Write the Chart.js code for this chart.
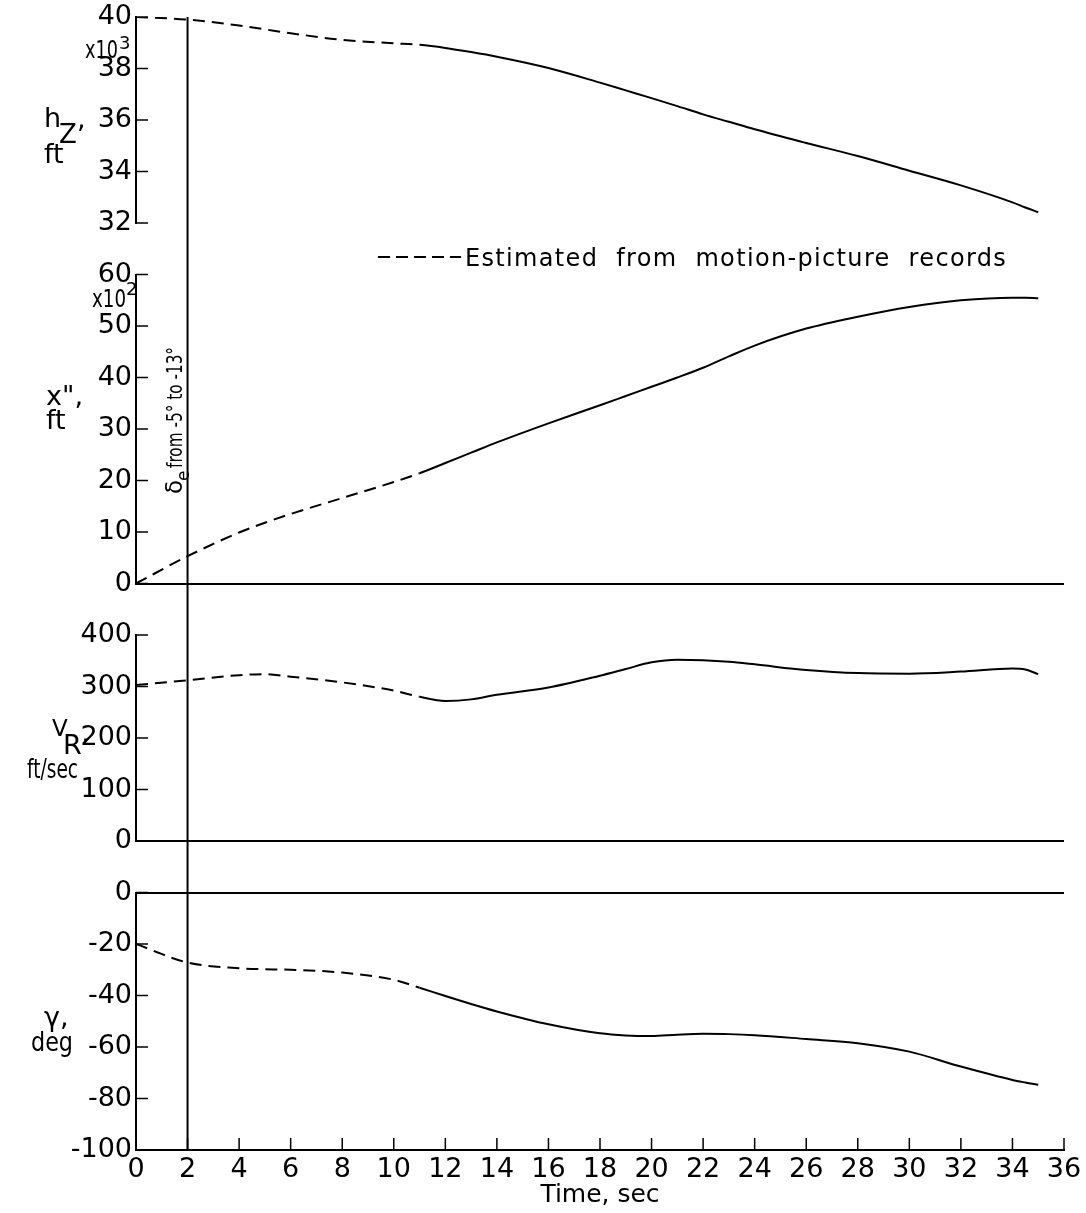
<!DOCTYPE html>
<html>
<head>
<meta charset="utf-8">
<script src="https://cdn.jsdelivr.net/npm/chart.js@4/dist/chart.umd.min.js"></script>
<style>
  body { margin: 0; background: #fff; }
  #wrap { width: 1086px; height: 1213px; }
</style>
</head>
<body>
<div id="wrap"><canvas id="myChart" width="1086" height="1213"></canvas></div>
<script>
// time, sec
var times = [0, 2, 4, 5, 6, 8, 10, 11, 12, 13, 14, 16, 18, 19, 20, 21, 22, 23, 24, 26, 28, 30, 32, 34, 34.5, 35];
// h_Z, ft x10^3
var heightVals = [40.0, 39.9, 39.67, 39.52, 39.37, 39.11, 38.98, 38.92, 38.8, 38.64, 38.46, 38.02, 37.45, 37.15, 36.85, 36.54, 36.22, 35.93, 35.64, 35.11, 34.6, 34.03, 33.46, 32.8, 32.6, 32.42];
// x'', ft x10^2
var distVals = [0, 5.3, 9.9, 11.8, 13.5, 16.6, 19.7, 21.4, 23.4, 25.4, 27.4, 31.1, 34.6, 36.4, 38.2, 40.0, 41.9, 44.1, 46.2, 49.5, 51.8, 53.7, 55.0, 55.5, 55.5, 55.4];
// V_R, ft/sec
var speedVals = [303, 312, 322, 324, 319, 308, 292, 280, 272, 275, 284, 298, 321, 334, 347, 352, 351, 348, 343, 332, 326, 325, 329, 335, 333, 324];
// gamma, deg
var gammaVals = [-20, -27.2, -29.4, -29.8, -30, -31.1, -33.9, -37, -40.2, -43.3, -46.2, -51.2, -54.7, -55.5, -55.7, -55.2, -54.9, -55, -55.4, -56.9, -58.5, -61.8, -67.6, -72.8, -73.8, -74.7];

var xTicks = [0, 2, 4, 6, 8, 10, 12, 14, 16, 18, 20, 22, 24, 26, 28, 30, 32, 34, 36];
var estimatedUntil = 11;   // dashed part (motion-picture records)
var controlTime = 2;       // delta_e step

var FONT = '"DejaVu Sans", sans-serif';
Chart.defaults.font.family = FONT;
Chart.defaults.color = '#000';

function pts(vals) {
  return times.map(function (t, i) { return {x: t, y: vals[i]}; });
}

function series(vals, axis) {
  return {
    data: pts(vals),
    yAxisID: axis,
    borderColor: '#000',
    borderWidth: 2,
    pointRadius: 0,
    fill: false,
    cubicInterpolationMode: 'monotone',
    segment: {
      borderDash: function (c) { return c.p1.parsed.x <= estimatedUntil ? [12, 7] : undefined; }
    }
  };
}

function noPad(s) {
  s.paddingTop = 0; s.paddingBottom = 0; s.paddingLeft = 0; s.paddingRight = 0;
}

function panelAxis(min, max, step, stackWeight, weight) {
  return {
    type: 'linear',
    position: 'left',
    stack: 'panels',
    stackWeight: stackWeight,
    weight: weight,
    min: min,
    max: max,
    afterFit: function (s) { s.width = 136; noPad(s); },
    border: {display: true, color: '#000', width: 2},
    grid: {
      color: function (c) { return c.tick && c.tick.value === 0 ? '#000' : 'rgba(0,0,0,0)'; },
      lineWidth: 2,
      drawTicks: false
    },
    ticks: {stepSize: step, autoSkip: false, padding: 4, font: {size: 27}, color: '#000'}
  };
}

function gapAxis(weight) {
  return {
    type: 'linear', position: 'left', stack: 'panels', stackWeight: 1, weight: weight,
    min: 0, max: 1, display: true,
    afterFit: function (s) { s.width = 136; noPad(s); },
    border: {display: false}, grid: {display: false}, ticks: {display: false}
  };
}

function txt(ctx, s, x, y, size, maxW) {
  ctx.font = size + 'px ' + FONT;
  if (maxW) ctx.fillText(s, x, y, maxW); else ctx.fillText(s, x, y);
}

var decorations = {
  id: 'decorations',
  afterDatasetsDraw: function (chart) {
    var ctx = chart.ctx, a = chart.chartArea;
    ctx.save();
    ctx.strokeStyle = '#000';

    // inward tick marks
    ctx.lineWidth = 1.5;
    ['yH', 'yX', 'yV', 'yG'].forEach(function (id) {
      var s = chart.scales[id];
      s.ticks.forEach(function (t) {
        var y = s.getPixelForValue(t.value);
        ctx.beginPath();
        ctx.moveTo(s.right, y);
        ctx.lineTo(s.right + 12, y);
        ctx.stroke();
      });
    });
    var sx = chart.scales.x;
    sx.ticks.forEach(function (t) {
      var x = sx.getPixelForValue(t.value);
      ctx.beginPath();
      ctx.moveTo(x, sx.top);
      ctx.lineTo(x, sx.top - 12);
      ctx.stroke();
    });

    // delta_e line
    var xs = sx.getPixelForValue(controlTime);
    ctx.lineWidth = 2;
    ctx.beginPath();
    ctx.moveTo(xs, a.top);
    ctx.lineTo(xs, a.bottom);
    ctx.stroke();

    ctx.fillStyle = '#000';
    ctx.textAlign = 'left';
    ctx.textBaseline = 'alphabetic';

    // axis titles
    txt(ctx, 'h', 44, 127, 27);
    txt(ctx, 'Z', 59, 143, 26);
    txt(ctx, ',', 77, 128, 27);
    txt(ctx, 'ft', 44, 163, 27);
    txt(ctx, 'x10', 85, 58, 25, 33);
    txt(ctx, '3', 119, 49, 18);

    txt(ctx, 'x",', 46, 405, 27);
    txt(ctx, 'ft', 46, 429, 27);
    txt(ctx, 'x10', 92, 307, 25, 34);
    txt(ctx, '2', 126, 295, 18);

    txt(ctx, 'V', 52, 736, 23);
    txt(ctx, 'R', 63, 754, 27);
    txt(ctx, ',', 81, 742, 27);
    txt(ctx, 'ft/sec', 27, 778, 26, 51);

    txt(ctx, 'γ,', 44, 1026, 27);
    txt(ctx, 'deg', 31, 1051, 27, 42);

    // legend
    ctx.setLineDash([12, 6]);
    ctx.lineWidth = 2;
    ctx.beginPath();
    ctx.moveTo(378, 257);
    ctx.lineTo(461, 257);
    ctx.stroke();
    ctx.setLineDash([]);
    var lg = 'Estimated  from  motion-picture  records';
    ctx.font = '24px ' + FONT;
    var w = ctx.measureText(lg).width;
    ctx.letterSpacing = ((1006 - 465 - w) / (lg.length - 1)).toFixed(2) + 'px';
    ctx.fillText(lg, 465, 266);
    ctx.letterSpacing = '0px';

    // control label, rotated
    ctx.save();
    ctx.translate(182, 494);
    ctx.rotate(-Math.PI / 2);
    txt(ctx, 'δ', 0, 0, 23);
    txt(ctx, 'e', 13, 7, 17);
    txt(ctx, 'from -5° to -13°', 26, 0, 21, 121);
    ctx.restore();
    ctx.restore();
  }
};

var ctx = document.getElementById('myChart').getContext('2d');
var myChart = new Chart(ctx, {
  type: 'line',
  data: {
    datasets: [
      series(heightVals, 'yH'),
      series(distVals, 'yX'),
      series(speedVals, 'yV'),
      series(gammaVals, 'yG')
    ]
  },
  options: {
    responsive: false,
    animation: false,
    layout: {padding: {left: 0, right: 22, top: 17, bottom: 0}},
    plugins: {legend: {display: false}, tooltip: {enabled: false}},
    scales: {
      x: {
        type: 'linear',
        position: 'bottom',
        min: 0,
        max: 36,
        afterFit: function (s) { s.height = 63; noPad(s); },
        afterBuildTicks: function (s) { s.ticks = xTicks.map(function (v) { return {value: v}; }); },
        border: {display: true, color: '#000', width: 2},
        grid: {drawOnChartArea: false, drawTicks: false},
        ticks: {padding: 4, maxRotation: 0, autoSkip: false, font: {size: 27}, color: '#000'},
        title: {display: true, text: 'Time, sec', font: {size: 25}, color: '#000', padding: {top: 0, bottom: 3}}
      },
      yH: panelAxis(32, 40, 2, 4, 7),
      g1: gapAxis(6),
      yX: panelAxis(0, 60, 10, 6, 5),
      g2: gapAxis(4),
      yV: panelAxis(0, 400, 100, 4, 3),
      g3: gapAxis(2),
      yG: panelAxis(-100, 0, 20, 5, 1)
    }
  },
  plugins: [decorations]
});
</script>
</body>
</html>
